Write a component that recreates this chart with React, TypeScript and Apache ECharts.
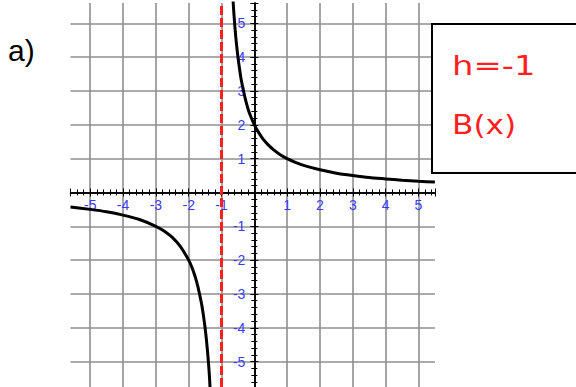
import React, { useEffect, useRef } from "react";
import * as echarts from "echarts";

// Visible window of the coordinate plane
const X_MIN = -5.6;
const X_MAX = 5.5;
const Y_MIN = -5.75;
const Y_MAX = 5.6;

// Vertical asymptote x = h
const H = -1;

// Branch right of the asymptote (x, y)
const rightX = [-0.65, -0.62, -0.58, -0.54, -0.5, -0.45, -0.4, -0.33, -0.25, -0.17, -0.09, 0, 0.1, 0.25, 0.4, 0.6, 0.8, 1, 1.25, 1.5, 2, 2.5, 3, 3.5, 4, 4.5, 5, 5.5];
const rightY = [5.7, 5.25, 4.75, 4.35, 4.0, 3.65, 3.33, 3.0, 2.67, 2.4, 2.2, 2.0, 1.82, 1.6, 1.43, 1.25, 1.11, 1.0, 0.89, 0.8, 0.67, 0.57, 0.5, 0.44, 0.4, 0.36, 0.33, 0.31];

// Branch left of the asymptote (x, y)
const leftX = [-5.6, -5, -4.5, -4, -3.5, -3, -2.75, -2.5, -2.25, -2, -1.9, -1.8, -1.72, -1.67, -1.6, -1.55, -1.5, -1.46, -1.42, -1.4, -1.37, -1.35];
const leftY = [-0.43, -0.5, -0.57, -0.67, -0.8, -1.0, -1.14, -1.33, -1.6, -2.0, -2.22, -2.5, -2.78, -3.0, -3.33, -3.64, -4.0, -4.35, -4.76, -5.0, -5.4, -5.75];

const boxLines = ["h=-1", "B(x)"];
const panelLabel = "a)";

const LABEL_BLUE = "#3b3bff";
const GRID_GRAY = "#8f8f8f";
const INK_RED = "#ff1f1f";

// Grid placement in pixels
const GRID_LEFT = 70.5;
const GRID_TOP = 3;
const GRID_W = 364.4;
const GRID_H = 384;
const CHART_H = 387;

const pairs = (xs: number[], ys: number[]) => xs.map((x, i) => [x, ys[i]]);
const hideZero = (v: number) => (Math.abs(v) < 1e-9 ? "" : String(v));

export default function App() {
  const ref = useRef<HTMLDivElement>(null);

  useEffect(() => {
    if (!ref.current) return;
    const chart = echarts.init(ref.current, null, { renderer: "svg" });

    // pixel positions of the zero lines inside the grid
    const zeroX = GRID_LEFT + ((0 - X_MIN) / (X_MAX - X_MIN)) * GRID_W;
    const zeroY = GRID_TOP + ((Y_MAX - 0) / (Y_MAX - Y_MIN)) * GRID_H;
    const gridRight = GRID_LEFT + GRID_W;
    const gridBottom = GRID_TOP + GRID_H;

    const tickCommon = {
      axisLine: { onZero: false, lineStyle: { color: "#000", width: 1.5 } },
      axisTick: { show: true, length: 4, lineStyle: { color: "#000", width: 1 } },
      minorTick: { show: true, splitNumber: 5, length: 3, lineStyle: { color: "#000", width: 1 } },
      minorSplitLine: { show: false },
    };

    const labelStyle = {
      show: true,
      showMinLabel: false,
      showMaxLabel: false,
      color: LABEL_BLUE,
      fontSize: 14,
      fontFamily: "Liberation Sans, Arial, sans-serif",
      formatter: hideZero,
    };

    const xBase = {
      type: "value" as const,
      min: X_MIN,
      max: X_MAX,
      minInterval: 1,
      maxInterval: 1,
      ...tickCommon,
    };
    const yBase = {
      type: "value" as const,
      min: Y_MIN,
      max: Y_MAX,
      minInterval: 1,
      maxInterval: 1,
      ...tickCommon,
    };

    chart.setOption({
      animation: false,
      backgroundColor: "#ffffff",
      grid: { left: GRID_LEFT, top: GRID_TOP, width: GRID_W, height: GRID_H },
      xAxis: [
        {
          ...xBase,
          position: "bottom",
          offset: -(gridBottom - zeroY),
          splitLine: { show: true, showMinLine: false, showMaxLine: false, lineStyle: { color: GRID_GRAY, width: 1.6 } },
          axisLabel: { ...labelStyle, margin: 6 },
        },
        {
          ...xBase,
          position: "top",
          offset: -(zeroY - GRID_TOP),
          splitLine: { show: false },
          axisLabel: { show: false },
        },
      ],
      yAxis: [
        {
          ...yBase,
          position: "left",
          offset: -(zeroX - GRID_LEFT),
          splitLine: { show: true, showMinLine: false, showMaxLine: false, lineStyle: { color: GRID_GRAY, width: 1.6 } },
          axisLabel: { ...labelStyle, margin: 9, padding: [4, 0, 0, 0] },
        },
        {
          ...yBase,
          position: "right",
          offset: -(gridRight - zeroX),
          splitLine: { show: false },
          axisLabel: { show: false },
        },
      ],
      series: [
        {
          name: "asymptote",
          type: "line",
          data: [
            [H, Y_MIN],
            [H, Y_MAX],
          ],
          showSymbol: false,
          silent: true,
          lineStyle: { color: INK_RED, width: 3, type: [9, 3] },
          z: 3,
        },
        {
          name: "right branch",
          type: "line",
          data: pairs(rightX, rightY),
          showSymbol: false,
          smooth: 0.2,
          clip: true,
          lineStyle: { color: "#000", width: 3 },
          z: 4,
        },
        {
          name: "left branch",
          type: "line",
          data: pairs(leftX, leftY),
          showSymbol: false,
          smooth: 0.2,
          clip: true,
          lineStyle: { color: "#000", width: 3 },
          z: 4,
        },
      ],
      graphic: [
        {
          type: "text",
          x: 8,
          y: 35,
          z: 100,
          style: {
            text: panelLabel,
            fill: "#000",
            textVerticalAlign: "alphabetic",
            font: "30px 'Liberation Sans', Arial, sans-serif",
          },
        },
        {
          type: "rect",
          z: 100,
          shape: { x: 432, y: 24, width: 160, height: 149 },
          style: { fill: "#ffffff", stroke: "#000", lineWidth: 2 },
        },
        {
          type: "text",
          x: 452,
          y: 79,
          scaleX: 1.3,
          z: 101,
          style: {
            text: boxLines[0],
            fill: INK_RED,
            textVerticalAlign: "bottom",
            font: "26px 'DejaVu Sans', sans-serif",
          },
        },
        {
          type: "text",
          x: 452,
          y: 138,
          scaleX: 1.2,
          z: 101,
          style: {
            text: boxLines[1],
            fill: INK_RED,
            textVerticalAlign: "bottom",
            font: "26px 'DejaVu Sans', sans-serif",
          },
        },
      ],
    });

    return () => chart.dispose();
  }, []);

  return (
    <div
      ref={ref}
      style={{ position: "absolute", left: 0, top: 0, width: 576, height: CHART_H, background: "#fff" }}
    />
  );
}
